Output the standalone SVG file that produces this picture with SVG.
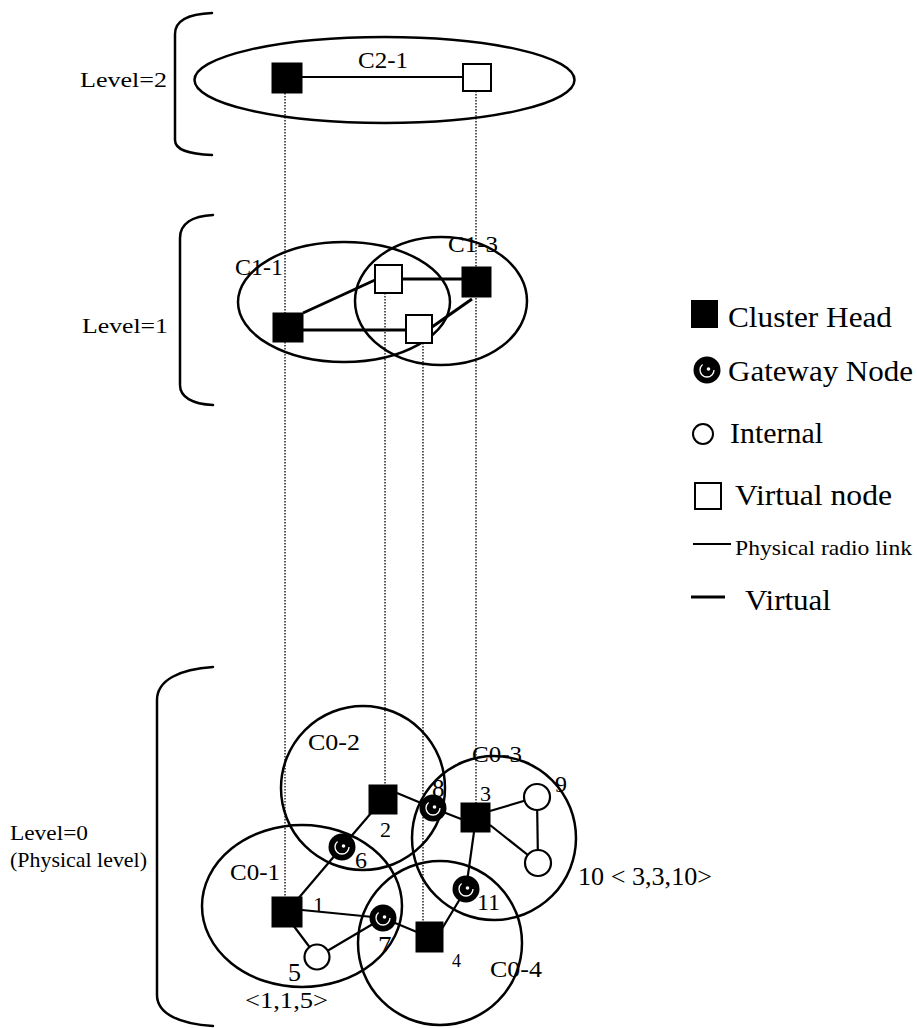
<svg xmlns="http://www.w3.org/2000/svg" xmlns:xlink="http://www.w3.org/1999/xlink" width="917" height="1028" viewBox="0 0 917 1028">
  <style>
    text { font-family: "Liberation Serif", "Times New Roman", serif; fill: #000; }
    .lvl { font-size: 22px; }
    .cl { font-size: 24px; }
    .lg { font-size: 30px; }
    .brace { fill: none; stroke: #000; stroke-width: 2.5; stroke-linecap: round; }
    .ring { fill: none; stroke: #000; stroke-width: 2.5; }
    .head { fill: #000; stroke: #000; stroke-width: 1; }
    .virt { fill: #fff; stroke: #000; stroke-width: 2; }
    .intl { fill: #fff; stroke: #000; stroke-width: 2.2; }
    .phys { stroke: #000; stroke-width: 2.2; fill: none; }
    .vlink { stroke: #000; stroke-width: 3; fill: none; }
    .proj { stroke: #000; stroke-width: 1.3; stroke-dasharray: 1.5 1.5; fill: none; }
  </style>
  <defs>
    <!-- gateway node: dark disc with a light swirl -->
    <g id="gw">
      <circle r="13.5" fill="#000"/>
      <circle r="7" fill="none" stroke="#fff" stroke-width="1.3" stroke-dasharray="28 16"/>
      <circle cx="1.5" cy="-1" r="1.8" fill="#fff"/>
    </g>
  </defs>

  <rect width="917" height="1028" fill="#fff"/>

  <!-- level brackets and labels -->
  <g id="level2">
    <path class="brace" d="M212,13 C188,14 175,20 175,34 L175,140 C175,150 188,154 212,155"/>
    <text class="lvl" x="80" y="87" textLength="87" lengthAdjust="spacingAndGlyphs">Level=2</text>
  </g>
  <g id="level1">
    <path class="brace" d="M213,215 C192,216 180,224 180,238 L180,385 C180,397 192,404 213,405"/>
    <text class="lvl" x="82" y="333" textLength="86" lengthAdjust="spacingAndGlyphs">Level=1</text>
  </g>
  <g id="level0">
    <path class="brace" d="M213,667 C180,669 157,680 157,700 L157,995 C157,1014 180,1024 213,1026"/>
    <text class="lvl" x="10" y="840" textLength="78" lengthAdjust="spacingAndGlyphs">Level=0</text>
    <text class="lvl" x="10" y="867" textLength="137" lengthAdjust="spacingAndGlyphs">(Physical level)</text>
  </g>

  <!-- projections between levels -->
  <g id="projections">
    <line class="proj" x1="285" y1="93" x2="285" y2="897"/>
    <line class="proj" x1="476" y1="91" x2="476" y2="803"/>
    <line class="proj" x1="385" y1="293" x2="385" y2="785"/>
    <line class="proj" x1="423" y1="343" x2="423" y2="922"/>
  </g>

  <!-- cluster boundaries -->
  <g id="clusters">
    <ellipse id="C2-1" class="ring" cx="384.5" cy="80" rx="190" ry="43"/>
    <ellipse id="C1-1" class="ring" cx="344" cy="302" rx="106" ry="60"/>
    <ellipse id="C1-3" class="ring" cx="441" cy="301" rx="86" ry="64"/>
    <circle id="C0-2" class="ring" cx="363" cy="788" r="82"/>
    <circle id="C0-3" class="ring" cx="494" cy="838" r="82"/>
    <ellipse id="C0-1" class="ring" cx="302" cy="906" rx="100" ry="81"/>
    <circle id="C0-4" class="ring" cx="440" cy="943" r="82"/>
  </g>

  <!-- links -->
  <g id="connectors">
    <!-- level 2 -->
    <line class="phys" x1="302" y1="77" x2="463" y2="77"/>
    <!-- level 1 virtual links -->
    <line class="vlink" x1="303" y1="313" x2="375" y2="280"/>
    <line class="vlink" x1="303" y1="330" x2="406" y2="330"/>
    <line class="vlink" x1="402" y1="279" x2="462" y2="279"/>
    <line class="vlink" x1="472" y1="299" x2="432" y2="327"/>
    <!-- level 0 radio links -->
    <line class="phys" x1="397" y1="793" x2="433" y2="808"/>
    <line class="phys" x1="433" y1="808" x2="461" y2="819"/>
    <line class="phys" x1="372" y1="812" x2="342" y2="847"/>
    <line class="phys" x1="490" y1="811" x2="537" y2="797"/>
    <line class="phys" x1="490" y1="825" x2="538" y2="863"/>
    <line class="phys" x1="537" y1="797" x2="538" y2="863"/>
    <line class="phys" x1="474" y1="832" x2="466" y2="889"/>
    <line class="phys" x1="297" y1="900" x2="342" y2="847"/>
    <line class="phys" x1="302" y1="910" x2="383" y2="918"/>
    <line class="phys" x1="293" y1="925" x2="317" y2="957"/>
    <line class="phys" x1="317" y1="957" x2="383" y2="918"/>
    <line class="phys" x1="383" y1="918" x2="429" y2="937"/>
    <line class="phys" x1="437" y1="937" x2="466" y2="889"/>
  </g>

  <!-- level 2 nodes -->
  <g id="n2-head"><rect class="head" x="272" y="63" width="30" height="30"/></g>
  <g id="n2-virtual"><rect class="virt" x="463" y="64" width="28" height="27"/></g>
  <g id="label-C2-1"><text class="cl" x="358" y="68" textLength="50" lengthAdjust="spacingAndGlyphs">C2-1</text></g>

  <!-- level 1 nodes -->
  <g id="n1-head1"><rect class="head" x="273" y="313" width="30" height="29"/></g>
  <g id="n1-virt-a"><rect class="virt" x="375" y="265" width="27" height="28"/></g>
  <g id="n1-head3"><rect class="head" x="462" y="267" width="29" height="30"/></g>
  <g id="n1-virt-b"><rect class="virt" x="406" y="315" width="26" height="28"/></g>
  <g id="label-C1-1"><text class="cl" x="235" y="275" textLength="48" lengthAdjust="spacingAndGlyphs">C1-1</text></g>
  <g id="label-C1-3"><text class="cl" x="448" y="252" textLength="50" lengthAdjust="spacingAndGlyphs">C1-3</text></g>

  <!-- level 0 nodes -->
  <g id="node-1">
    <rect class="head" x="272" y="897" width="30" height="30"/>
    <text x="313" y="912" font-size="22">1</text>
  </g>
  <g id="node-2">
    <rect class="head" x="369" y="785" width="28" height="29"/>
    <text x="380" y="837" font-size="22">2</text>
  </g>
  <g id="node-3">
    <rect class="head" x="461" y="803" width="29" height="29"/>
    <text x="480" y="801" font-size="22">3</text>
  </g>
  <g id="node-4">
    <rect class="head" x="416" y="922" width="27" height="30"/>
    <text x="452" y="967" font-size="18">4</text>
  </g>
  <g id="node-5">
    <circle class="intl" cx="317" cy="957" r="12.5"/>
    <text x="288" y="981" font-size="26">5</text>
  </g>
  <g id="node-6">
    <use xlink:href="#gw" x="342" y="847"/>
    <text x="355" y="868" font-size="24">6</text>
  </g>
  <g id="node-7">
    <use xlink:href="#gw" x="383" y="918"/>
    <text x="378" y="955" font-size="27">7</text>
  </g>
  <g id="node-8">
    <use xlink:href="#gw" x="433" y="808"/>
    <text x="432" y="797" font-size="25">8</text>
  </g>
  <g id="node-9">
    <circle class="intl" cx="537" cy="797" r="13"/>
    <text x="555" y="792" font-size="24">9</text>
  </g>
  <g id="node-10">
    <circle class="intl" cx="538" cy="863" r="13"/>
    <text x="578" y="885" font-size="26" textLength="134" lengthAdjust="spacingAndGlyphs">10 &lt; 3,3,10&gt;</text>
  </g>
  <g id="node-11">
    <use xlink:href="#gw" x="466" y="889"/>
    <text x="477" y="910" font-size="24">11</text>
  </g>
  <g id="cluster-labels-0">
    <text class="cl" x="308" y="750" textLength="52" lengthAdjust="spacingAndGlyphs">C0-2</text>
    <text class="cl" x="472" y="762" textLength="50" lengthAdjust="spacingAndGlyphs">C0-3</text>
    <text class="cl" x="230" y="880" textLength="50" lengthAdjust="spacingAndGlyphs">C0-1</text>
    <text class="cl" x="490" y="977" textLength="52" lengthAdjust="spacingAndGlyphs">C0-4</text>
    <text x="245" y="1008" font-size="24" textLength="83" lengthAdjust="spacingAndGlyphs">&lt;1,1,5&gt;</text>
  </g>

  <!-- legend -->
  <g id="legend">
    <rect x="691" y="300" width="27" height="28" fill="#000"/>
    <text class="lg" x="728" y="327" textLength="164" lengthAdjust="spacingAndGlyphs">Cluster Head</text>
    <use xlink:href="#gw" x="707" y="370"/>
    <text class="lg" x="728" y="381" textLength="185" lengthAdjust="spacingAndGlyphs">Gateway Node</text>
    <circle cx="703" cy="434" r="10" fill="#fff" stroke="#000" stroke-width="2"/>
    <text class="lg" x="730" y="443" textLength="93" lengthAdjust="spacingAndGlyphs">Internal</text>
    <rect x="695" y="483" width="26" height="26" fill="#fff" stroke="#000" stroke-width="2"/>
    <text class="lg" x="735" y="505" textLength="157" lengthAdjust="spacingAndGlyphs">Virtual node</text>
    <line x1="693" y1="544" x2="731" y2="544" stroke="#000" stroke-width="2"/>
    <text x="735" y="555" font-size="22" textLength="177" lengthAdjust="spacingAndGlyphs">Physical radio link</text>
    <line x1="691" y1="597" x2="725" y2="597" stroke="#000" stroke-width="3"/>
    <text class="lg" x="745" y="610" textLength="86" lengthAdjust="spacingAndGlyphs">Virtual</text>
  </g>
</svg>
